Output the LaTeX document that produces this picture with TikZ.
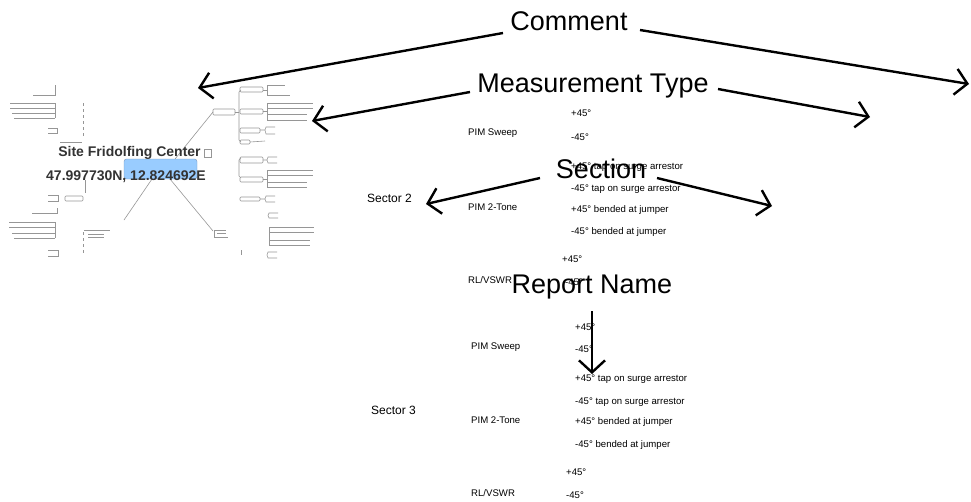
\documentclass[tikz,border=0pt]{standalone}
\usepackage{fontspec}
\setmainfont{Liberation Sans}
\usetikzlibrary{arrows.meta}
\definecolor{thumb}{RGB}{150,150,150}
\definecolor{boxblue}{RGB}{153,204,255}
\definecolor{boxedge}{RGB}{120,150,190}
\definecolor{sitetext}{RGB}{51,51,51}
\tikzset{
  biglabel/.style={inner sep=0pt, font=\fontsize{27}{27}\selectfont},
  small/.style={inner sep=0pt, anchor=west, font=\fontsize{9.6}{10}\selectfont},
  sector/.style={inner sep=0pt, anchor=west, font=\fontsize{12}{12}\selectfont},
  callout/.style={line width=2.4pt, -{Straight Barb[length=12pt,width=26pt,line width=2.4pt]}},
  tl/.style={draw=thumb, line width=0.6pt},
  tbox/.style={draw=thumb, line width=0.6pt, rounded corners=1pt},
}
\begin{document}
\begin{tikzpicture}[x=1pt,y=-1pt]
\useasboundingbox (0,0) rectangle (971,501);

% ---------- mind-map thumbnail (left) ----------
% lines from the centre box
\draw[tl] (175,159) -- (213,112);
\draw[tl] (152,179) -- (124,220);
\draw[tl] (170,179) -- (213,231);

% left side branches
\draw[tl] (33,95) -- (55,95) -- (55,85);
\draw[tl] (10,103) -- (55,103) (10,108) -- (55,108) (12,113) -- (55,113) (14,118) -- (55,118) (55,103) -- (55,118);
\draw[tl] (48,128) -- (57,128) -- (57,133) -- (48,133);
\draw[tl, dashed] (83,103) -- (83,138);
\draw[tl] (60,142) -- (82,142);
\draw[tl] (85,180) -- (85,193);
\draw[tl] (48,195) -- (58,195) -- (58,201) -- (48,201);
\draw[tbox] (65,196) rectangle (83,201);
\draw[tl] (32,213) -- (57,213) -- (57,208);
\draw[tl] (9,222) -- (55,222) (9,227) -- (55,227) (12,233) -- (55,233) (14,238) -- (55,238) (55,222) -- (55,238);
\draw[tl] (48,250) -- (58,250) -- (58,256) -- (48,256);
\draw[tl, dashed] (83,232) -- (83,255);
\draw[tl] (84,230) -- (110,230) (88,234) -- (104,234) (88,237) -- (104,237);

% right side branches
\draw[tbox] (213,109) rectangle (235,115);
\draw[tl] (235,112) -- (239,112);
\draw[tl] (241,90) -- (239,92) -- (239,140) -- (241,142);
\draw[tbox] (240,87) rectangle (263,92);
\draw[tl] (263,90) -- (267,90) (267,85) -- (267,95) -- (290,95) (267,85) -- (285,85);
\draw[tbox] (240,109) rectangle (263,114);
\draw[tl] (263,111) -- (267,111) (267,103) -- (267,120);
\draw[tl] (267,103) -- (313,103) (267,108) -- (313,108) (267,114) -- (307,114) (267,120) -- (307,120);
\draw[tbox] (240,128) rectangle (260,133);
\draw[tl] (260,130) -- (265,130) (275,127) -- (266,127) -- (265,130) -- (266,134) -- (275,134);
\draw[tbox] (240,140) rectangle (250,144);
\draw[tl] (250,142) -- (265,141);

\draw[tl] (241,158) -- (239,160) -- (239,176) -- (241,178);
\draw[tbox] (240,157) rectangle (263,163);
\draw[tl] (263,160) -- (267,160) (277,157) -- (268,157) -- (267,160) -- (268,163) -- (277,163);
\draw[tbox] (240,177) rectangle (263,182);
\draw[tl] (263,179) -- (267,179) (267,170) -- (267,187);
\draw[tl] (267,170) -- (313,170) (267,175) -- (313,175) (267,182) -- (307,182) (267,187) -- (307,187);
\draw[tbox] (240,197) rectangle (260,201);
\draw[tl] (260,199) -- (265,199) (275,196) -- (266,196) -- (265,199) -- (266,202) -- (275,202);
\draw[tl] (278,213) -- (269,213) -- (268,215.5) -- (269,218) -- (278,218);
\draw[tl] (269,227) -- (269,245);
\draw[tl] (269,227) -- (314,227) (269,232) -- (314,232) (269,240) -- (310,240) (269,245) -- (310,245);
\draw[tl] (277,252) -- (268,252) -- (267,255) -- (268,258) -- (277,258);
\draw[tl] (241,250) -- (241,255);
\draw[tl] (214,230) -- (226,230) (214,230) -- (214,237) -- (228,237) (217,233.5) -- (226,233.5);

% centre box and its texts
\node[draw=boxedge, fill=boxblue, rounded corners=2.5pt, minimum width=73pt, minimum height=20pt, inner sep=0pt] (centre) at (160.5,169) {};
\node[inner sep=0pt, text=sitetext, font=\fontsize{14}{14}\selectfont\bfseries] (site) at (129.5,153) {Site Fridolfing Center};
\node[draw=thumb, fill=white, line width=0.5pt, minimum width=7pt, minimum height=8pt, inner sep=0pt] (glyphbox) at (207.5,153) {};
\node[inner sep=0pt, text=sitetext, font=\fontsize{14}{14}\selectfont\bfseries] (coords) at (126,177) {47.997730N, 12.824692E};

% ---------- table text ----------
% Sector 2
\node[small] (s2a) at (571,113) {+45°};
\node[small] (s2pim) at (468,133) {PIM Sweep};
\node[small] (s2b) at (571,137) {-45°};
\node[small] (s2c) at (571,167) {+45° tap on surge arrestor};
\node[sector] (sec2) at (367,198) {Sector 2};
\node[small] (s2d) at (571,189) {-45° tap on surge arrestor};
\node[small] (s2tone) at (468,207) {PIM 2-Tone};
\node[small] (s2e) at (571,210) {+45° bended at jumper};
\node[small] (s2f) at (571,232) {-45° bended at jumper};
\node[small] (s2g) at (562,259) {+45°};
\node[small] (s2rl) at (468,280) {RL/VSWR};
\node[small] (s2h) at (565,282) {-45°};

% Sector 3
\node[small] (s3a) at (575,327) {+45°};
\node[small] (s3pim) at (471,347) {PIM Sweep};
\node[small] (s3b) at (575,349) {-45°};
\node[small] (s3c) at (575,379) {+45° tap on surge arrestor};
\node[sector] (sec3) at (371,410) {Sector 3};
\node[small] (s3d) at (575,402) {-45° tap on surge arrestor};
\node[small] (s3tone) at (471,420) {PIM 2-Tone};
\node[small] (s3e) at (575,422) {+45° bended at jumper};
\node[small] (s3f) at (575,445) {-45° bended at jumper};
\node[small] (s3g) at (566,472) {+45°};
\node[small] (s3rl) at (471,493) {RL/VSWR};
\node[small] (s3h) at (566,495) {-45°};

% ---------- callouts ----------
\node[biglabel] (comment) at (569,21) {Comment};
\node[biglabel] (mtype) at (593,86) {Measurement Type};
\node[biglabel] (section) at (601,169) {Section};
\node[biglabel] (report) at (592,287) {Report Name};

\coordinate (cL0) at (503,33);  \coordinate (cL1) at (198,88);
\coordinate (cR0) at (640,30);  \coordinate (cR1) at (969,84);
\coordinate (mL0) at (470,92);  \coordinate (mL1) at (312,121);
\coordinate (mR0) at (718,89);  \coordinate (mR1) at (870,117);
\coordinate (sL0) at (540,178); \coordinate (sL1) at (426,204);
\coordinate (sR0) at (657,178); \coordinate (sR1) at (772,206);
\coordinate (r0) at (592,311);  \coordinate (r1) at (592,374);

\draw[callout] (cL0) -- (cL1);
\draw[callout] (cR0) -- (cR1);
\draw[callout] (mL0) -- (mL1);
\draw[callout] (mR0) -- (mR1);
\draw[callout] (sL0) -- (sL1);
\draw[callout] (sR0) -- (sR1);
\draw[callout] (r0) -- (r1);
\end{tikzpicture}
\end{document}
